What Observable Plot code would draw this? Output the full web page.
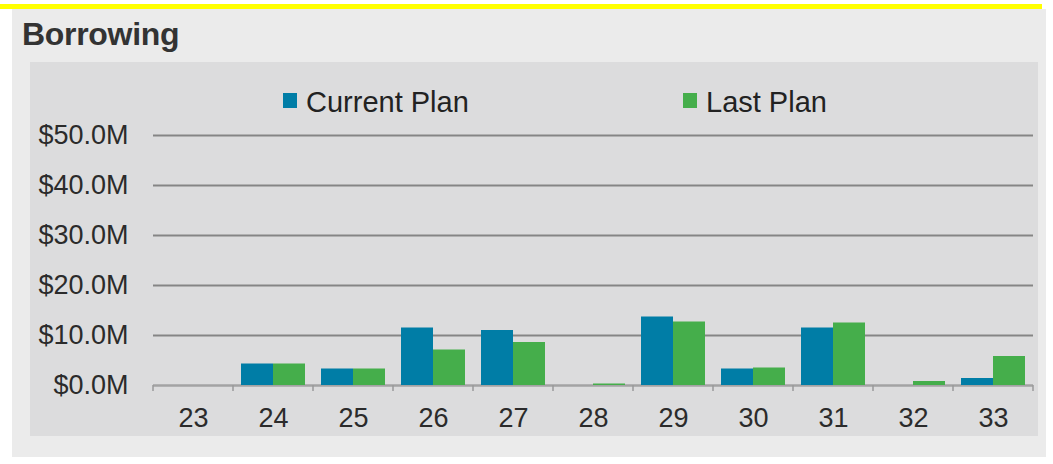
<!DOCTYPE html>
<html>
<head>
<meta charset="utf-8">
<script src="https://cdn.jsdelivr.net/npm/d3@7"></script>
<script src="https://cdn.jsdelivr.net/npm/@observablehq/plot@0.6"></script>
<style>
  html, body { margin: 0; padding: 0; background: #ffffff; width: 1053px; height: 464px; overflow: hidden; }
  body { position: relative; font-family: "Liberation Sans", Arial, sans-serif; }
  #yellow { position: absolute; left: 0; top: 4px; width: 1042px; height: 5px; background: #ffff00; }
  #outer { position: absolute; left: 12px; top: 9px; width: 1034px; height: 448px; background: #ebebeb; }
  #title { position: absolute; left: 22px; top: 18px; font-size: 32px; line-height: 32px; font-weight: bold; color: #333333; letter-spacing: -0.3px; }
  #panel { position: absolute; left: 30px; top: 62px; width: 1008px; height: 374px; background: #dcdcdd; }
  #chart { position: absolute; left: 30px; top: 62px; }
  .leg { position: absolute; top: 88px; font-size: 29px; line-height: 29px; color: #222222; white-space: nowrap; }
  .leg .sw { position: absolute; left: -23px; top: 5px; width: 14px; height: 15px; }
</style>
</head>
<body>
<div id="yellow"></div>
<div id="outer"></div>
<div id="title">Borrowing</div>
<div id="panel"></div>
<div id="chart"></div>
<div id="legend"></div>
<script>
// ---- data ----
const categories = ["23", "24", "25", "26", "27", "28", "29", "30", "31", "32", "33"];
const seriesNames = ["Current Plan", "Last Plan"];
const seriesColors = ["#007da6", "#45ae4b"];
const currentPlan = [0, 4.3, 3.3, 11.5, 11.0, 0, 13.7, 3.3, 11.5, 0, 1.4];
const lastPlan = [0, 4.3, 3.3, 7.1, 8.6, 0.3, 12.7, 3.5, 12.5, 0.8, 5.8];
const yTicks = [0, 10, 20, 30, 40, 50];
const yTickLabels = ["$0.0M", "$10.0M", "$20.0M", "$30.0M", "$40.0M", "$50.0M"];

const rows = categories.flatMap((c, i) => [
  {cat: c, series: seriesNames[0], value: currentPlan[i]},
  {cat: c, series: seriesNames[1], value: lastPlan[i]}
]);

const chart = Plot.plot({
  width: 1008,
  height: 374,
  marginLeft: 122,
  marginRight: 5,
  marginTop: 73,
  marginBottom: 51,
  style: {background: "transparent", fontFamily: "'Liberation Sans', Arial, sans-serif", fontSize: "27px", color: "#2b2b2b", overflow: "visible"},
  fx: {domain: categories, padding: 0, label: null, tickSize: 0, tickPadding: 22, axis: "bottom"},
  x: {domain: seriesNames, paddingInner: 0, paddingOuter: 0.23, axis: null},
  y: {domain: [0, 50], ticks: yTicks, tickFormat: d => yTickLabels[yTicks.indexOf(d)], tickSize: 0, tickPadding: 25, label: null},
  color: {domain: seriesNames, range: seriesColors},
  marks: [
    Plot.ruleY(yTicks.filter(v => v > 0), {stroke: "#858585", strokeWidth: 1.8}),
    Plot.ruleY([0], {stroke: "#a3a3a3", strokeWidth: 2.5}),
    Plot.barY(rows, {fx: "cat", x: "series", y: "value", fill: "series"})
  ]
});
document.getElementById("chart").appendChild(chart);

// small category-boundary ticks under the baseline, placed with Plot's own scales
const fx = chart.scale("fx");
const ys = chart.scale("y");
const y0 = ys.apply(0);
const edges = categories.map(c => fx.apply(c));
edges.push(fx.apply(categories[categories.length - 1]) + fx.bandwidth);
d3.select(chart).append("g")
  .selectAll("line").data(edges).join("line")
  .attr("x1", d => d).attr("x2", d => d)
  .attr("y1", y0).attr("y2", y0 + 6)
  .attr("stroke", "#9a9a9a").attr("stroke-width", 1.5);

// legend
const legendX = [306, 706];
const legend = d3.select("#legend");
seriesNames.forEach((name, i) => {
  const item = legend.append("div").attr("class", "leg").style("left", legendX[i] + "px");
  item.append("div").attr("class", "sw").style("background", seriesColors[i]);
  item.append("span").text(name);
});
</script>
</body>
</html>
